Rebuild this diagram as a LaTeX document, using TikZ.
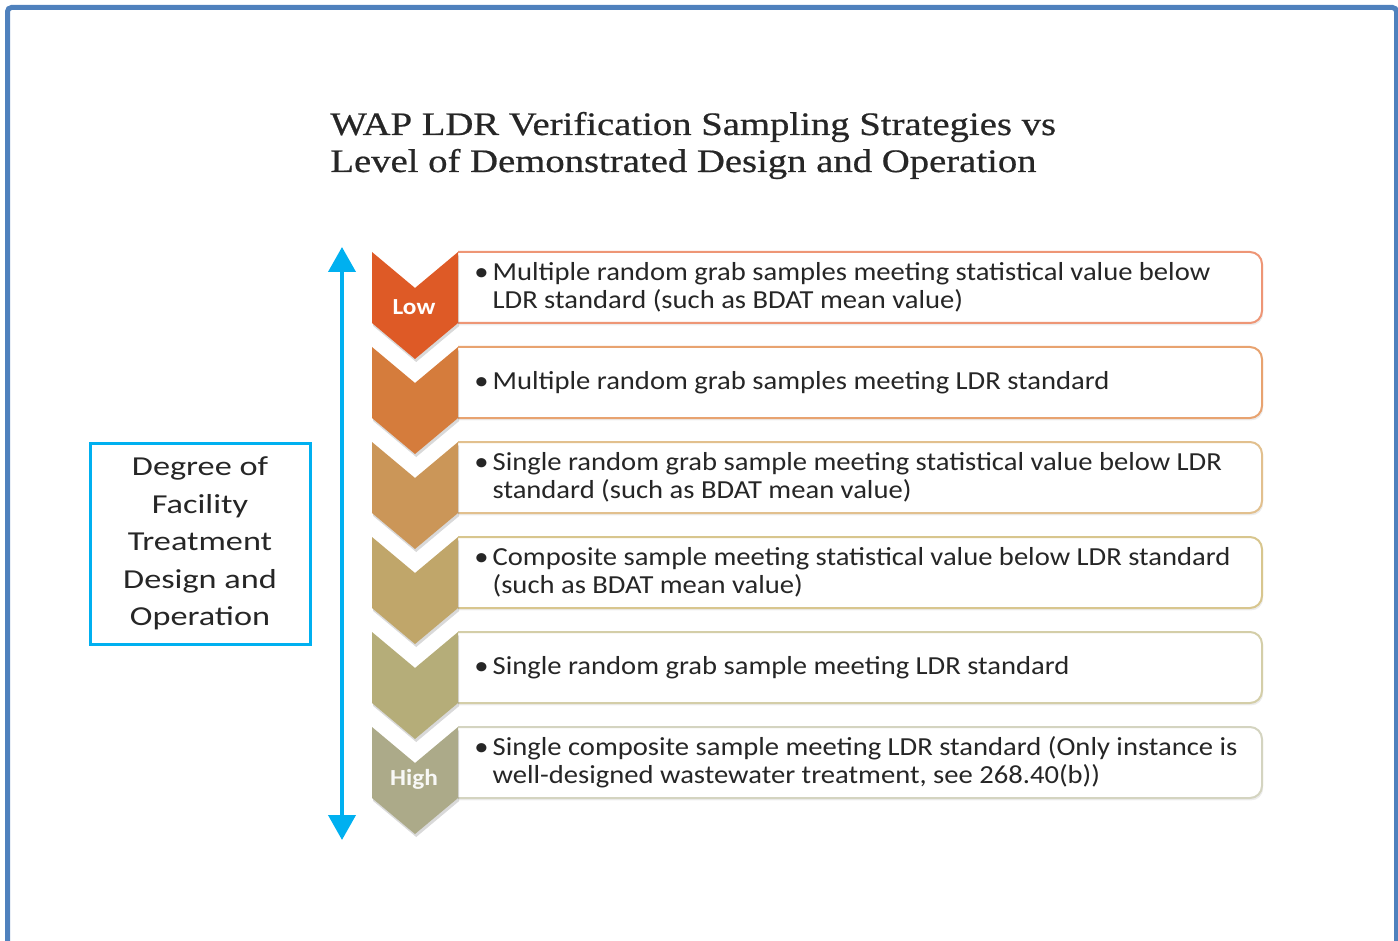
\documentclass[tikz,border=0pt]{standalone}
\usepackage{fontspec}
\setmainfont{Carlito}[FakeStretch=1.1]
\newfontfamily\titlefont{Liberation Serif}[FakeStretch=1.18,FakeBold=0.6]
\newfontfamily\sidefont{Carlito}[FakeStretch=1.25]
\usetikzlibrary{arrows.meta,shadows}
\definecolor{frameblue}{RGB}{79,129,189}
\definecolor{axisblue}{RGB}{0,176,240}
\definecolor{chevA}{RGB}{222,90,38}
\definecolor{chevB}{RGB}{213,124,60}
\definecolor{chevC}{RGB}{203,150,88}
\definecolor{chevD}{RGB}{192,166,106}
\definecolor{chevE}{RGB}{181,173,121}
\definecolor{chevF}{RGB}{172,170,137}
\definecolor{boxA}{RGB}{238,150,118}
\definecolor{boxB}{RGB}{232,163,112}
\definecolor{boxC}{RGB}{226,192,142}
\definecolor{boxD}{RGB}{216,198,142}
\definecolor{boxE}{RGB}{212,206,168}
\definecolor{boxF}{RGB}{212,212,192}
\newcommand{\rowitem}[1]{\begin{tabular}{@{}l@{\hspace{2pt}}l@{}}\textbullet & #1\end{tabular}}

\begin{document}
\begin{tikzpicture}[x=0.5pt,y=-0.5pt,
    chevron/.style={drop shadow={shadow xshift=0.6pt,shadow yshift=-1.5pt,opacity=0.3}},
    rowbox/.style={fill=white,line width=1pt,rounded corners=6pt,
      drop shadow={shadow xshift=0.6pt,shadow yshift=-1.2pt,opacity=0.15}},
    rowtext/.style={anchor=west,inner sep=0pt,text=black!85,
      font=\fontsize{13}{14}\selectfont},
    level/.style={text=white,inner sep=0pt,font=\fontsize{11.5}{13}\selectfont\bfseries},
    titletext/.style={anchor=base west,inner sep=0pt,text=black!85,
      font=\titlefont\fontsize{16.4}{19}\selectfont}]
    \useasboundingbox (0,0) rectangle (1398,941);

    % frame
    \draw[frameblue,line width=2.5pt,rounded corners=2pt]
      (7.5,941) -- (7.5,7.5) -- (1396.5,7.5) -- (1396.5,941);

    % title
    \node[titletext] (title1) at (330,135) {WAP LDR Verification Sampling Strategies vs};
    \node[titletext] (title2) at (330,172) {Level of Demonstrated Design and Operation};

    % boxes behind the chevrons
    \foreach \i/\c in {0/boxA,1/boxB,2/boxC,3/boxD,4/boxE,5/boxF}{
      \pgfmathsetmacro\t{252+95*\i}
      \draw[rowbox,draw=\c] (458,\t) -- (1262,\t) -- (1262,\t+71) -- (458,\t+71);
    }

    % chevrons
    \foreach \i/\c in {0/chevA,1/chevB,2/chevC,3/chevD,4/chevE,5/chevF}{
      \pgfmathsetmacro\t{252+95*\i}
      \fill[chevron,fill=\c] (372,\t) -- (415,\t+36) -- (458,\t) -- (458,\t+71)
        -- (415,\t+107) -- (372,\t+71) -- cycle;
    }
    \node[level] (low) at (414,307) {Low};
    \node[level,text=white!92!chevF] (high) at (414,779) {High};

    % row texts
    \node[rowtext] (row1) at (474,289) {\rowitem{Multiple random grab samples meeting statistical value below\\ & LDR standard (such as BDAT mean value)}};
    \node[rowtext] (row2) at (474,384) {\rowitem{Multiple random grab samples meeting LDR standard}};
    \node[rowtext] (row3) at (474,479) {\rowitem{Single random grab sample meeting statistical value below LDR\\ & standard (such as BDAT mean value)}};
    \node[rowtext] (row4) at (474,574) {\rowitem{Composite sample meeting statistical value below LDR standard\\ & (such as BDAT mean value)}};
    \node[rowtext] (row5) at (474,669) {\rowitem{Single random grab sample meeting LDR standard}};
    \node[rowtext] (row6) at (474,764) {\rowitem{Single composite sample meeting LDR standard (Only instance is\\ & well-designed wastewater treatment, see 268.40(b))}};

    % low/high axis
    \coordinate (axtop) at (342,247);
    \coordinate (axbot) at (342,840);
    \draw[axisblue,line width=2pt,{Triangle[length=12.5pt,width=13.5pt]}-{Triangle[length=12.5pt,width=13.5pt]}]
      (axtop) -- (axbot);

    % side label
    \node[draw=axisblue,line width=1.5pt,minimum width=110pt,minimum height=100.5pt,
      align=center,text=black!85,font=\sidefont\fontsize{13.7}{18.75}\selectfont]
      (degree) at (200,543.5) {Degree of\\Facility\\Treatment\\Design and\\Operation};
\end{tikzpicture}
\end{document}
